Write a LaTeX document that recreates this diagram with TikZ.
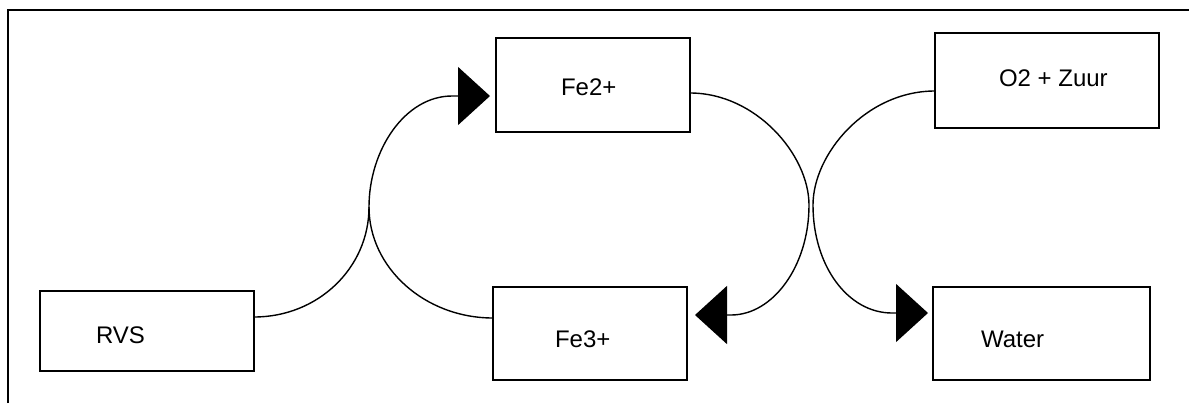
\documentclass[tikz,border=0pt]{standalone}
\usepackage{fontspec}
\setmainfont{Liberation Sans}
\usetikzlibrary{arrows.meta,calc}
\tikzset{
  box/.style={draw=black,line width=0.9pt,inner sep=0pt,outer sep=0pt},
  lbl/.style={anchor=base west,inner sep=0pt,outer sep=0pt,font=\fontsize{12}{14}\selectfont},
  conn/.style={line width=0.7pt},
  bigtip/.style={-{Triangle[length=16pt,width=29pt]}},
  frameline/.style={line width=1pt}
}
\begin{document}
\begin{tikzpicture}[x=0.5pt,y=-0.5pt]
\useasboundingbox (0,0) rectangle (1189,403);
% frame
\draw[frameline] (8,403) -- (8,10) -- (1189,10);
% boxes
\node[box,minimum width=107pt,minimum height=40pt] (rvs) at (147,331) {};
\node[box,minimum width=97pt,minimum height=47pt] (fe2) at (593,85) {};
\node[box,minimum width=112pt,minimum height=47.5pt] (o2) at (1047,80.5) {};
\node[box,minimum width=97pt,minimum height=46.5pt] (fe3) at (590,333.5) {};
\node[box,minimum width=108.5pt,minimum height=46.5pt] (water) at (1041.5,333.5) {};
% labels
\node[lbl] (trvs) at (96,343) {RVS};
\node[lbl] (tfe2) at (561,95) {Fe2+};
\node[lbl] (to2) at (999,86) {O2 + Zuur};
\node[lbl] (tfe3) at (555,347) {Fe3+};
\node[lbl] (twater) at (981,347) {Water};
% left connectors
\coordinate (j1) at (369,207);
\draw[conn] ([yshift=7pt]rvs.east) .. controls (318,317) and (369,268) .. (j1);
\draw[conn] ([yshift=7.75pt]fe3.west) .. controls (425,318) and (369,268) .. (j1);
\draw[conn,bigtip,shorten >=3pt] (j1) .. controls (369,150) and (405,96) .. (452,96) -- ([yshift=-5.5pt]fe2.west);
% right connectors
\draw[conn,bigtip,shorten >=4pt] ([yshift=-4pt]fe2.east) .. controls (756,93) and (809,155) .. (809,205)
  .. controls (809,266) and (773,315) .. (731,315) -- ([yshift=9.25pt]fe3.east);
\draw[conn,bigtip,shorten >=2.5pt] ([yshift=-5.25pt]o2.west) .. controls (866,91) and (813,154) .. (813,205)
  .. controls (813,266) and (848,313) .. (892,313) -- ([yshift=10.25pt]water.west);
\end{tikzpicture}
\end{document}
